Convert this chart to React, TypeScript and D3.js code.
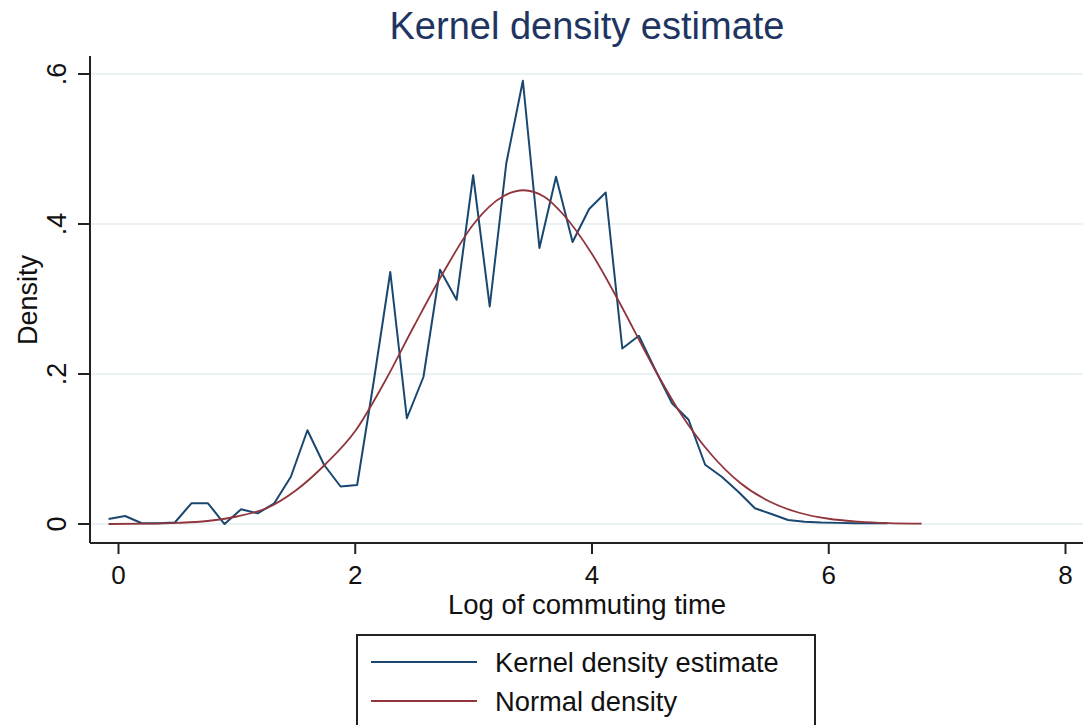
import React, { useEffect, useRef } from "react";
import * as d3 from "d3";

// kernel density estimate
const kdeX = [
  -0.084, 0.056, 0.196, 0.336, 0.476, 0.616, 0.756, 0.896, 1.036, 1.176,
  1.316, 1.456, 1.596, 1.736, 1.876, 2.016, 2.156, 2.296, 2.436, 2.576,
  2.716, 2.856, 2.996, 3.136, 3.276, 3.416, 3.556, 3.696, 3.836, 3.976,
  4.116, 4.256, 4.396, 4.536, 4.676, 4.816, 4.956, 5.096, 5.236, 5.376,
  5.516, 5.656, 5.796, 5.936, 6.076, 6.216, 6.356, 6.496,
];
const kdeY = [
  0.0067, 0.0107, 0.001, 0.001, 0.002, 0.0276, 0.0276, 0.0, 0.0196, 0.0142,
  0.0276, 0.063, 0.125, 0.079, 0.05, 0.052, 0.19, 0.336, 0.141, 0.196,
  0.339, 0.299, 0.465, 0.29, 0.481, 0.591, 0.368, 0.463, 0.376, 0.42,
  0.442, 0.234, 0.251, 0.205, 0.161, 0.139, 0.079, 0.063, 0.043, 0.021,
  0.0133, 0.0053, 0.003, 0.002, 0.0015, 0.001, 0.001, 0.001,
];

// normal density curve
const normX = [
  -0.084, 0.25, 0.5, 0.75, 1.0, 1.25, 1.5, 1.75, 2.0, 2.25, 2.5, 2.75, 3.0,
  3.25, 3.42, 3.6, 3.75, 4.0, 4.25, 4.5, 4.75, 5.0, 5.25, 5.5, 5.75, 6.0,
  6.25, 6.5, 6.785,
];
const normY = [
  0.0, 0.0004, 0.0015, 0.004, 0.01, 0.021, 0.045, 0.08, 0.124, 0.19, 0.265,
  0.337, 0.4, 0.437, 0.445, 0.436, 0.414, 0.36, 0.29, 0.215, 0.147, 0.094,
  0.055, 0.03, 0.015, 0.007, 0.0033, 0.0013, 0.0004,
];

const xTicks = [0, 2, 4, 6, 8];
const yTicks = [0, 0.2, 0.4, 0.6];
const yTickLabels = ["0", ".2", ".4", ".6"];
const seriesNames = ["Kernel density estimate", "Normal density"];

const FONT = "'Liberation Sans', Arial, sans-serif";
const BLUE = "#1a476f";
const RED = "#90353b";

const App = () => {
  const ref = useRef<SVGSVGElement>(null);

  useEffect(() => {
    document.body.style.margin = "0";
    const width = 1085;
    const height = 725;
    const left = 90;
    const right = 1083;
    const axisY = 543;

    const svg = d3.select(ref.current);
    svg.selectAll("*").remove();

    svg.append("rect").attr("width", width).attr("height", height).attr("fill", "#fff");

    const x = d3.scaleLinear().domain([0, 8]).range([118.5, 1065.5]);
    const y = d3.scaleLinear().domain([0, 0.6]).range([524, 74]);

    // gridlines
    svg.append("g")
      .selectAll("line")
      .data(yTicks)
      .enter().append("line")
      .attr("x1", left)
      .attr("x2", right)
      .attr("y1", d => y(d))
      .attr("y2", d => y(d))
      .attr("stroke", "#eaf2f3")
      .attr("stroke-width", 2);

    // curves
    const line = d3.line<[number, number]>()
      .x(d => x(d[0]))
      .y(d => y(d[1]));

    svg.append("path")
      .datum(kdeX.map((v, i) => [v, kdeY[i]] as [number, number]))
      .attr("d", line)
      .attr("fill", "none")
      .attr("stroke", BLUE)
      .attr("stroke-width", 2)
      .attr("stroke-linejoin", "round");

    svg.append("path")
      .datum(normX.map((v, i) => [v, normY[i]] as [number, number]))
      .attr("d", line.curve(d3.curveMonotoneX))
      .attr("fill", "none")
      .attr("stroke", RED)
      .attr("stroke-width", 1.8);

    // y axis
    const yAxis = svg.append("g");
    yAxis.append("line")
      .attr("x1", left).attr("x2", left)
      .attr("y1", 56).attr("y2", axisY)
      .attr("stroke", "#222").attr("stroke-width", 2);
    yAxis.selectAll("line.tick")
      .data(yTicks)
      .enter().append("line")
      .attr("class", "tick")
      .attr("x1", 78).attr("x2", left)
      .attr("y1", d => y(d)).attr("y2", d => y(d))
      .attr("stroke", "#222").attr("stroke-width", 2);
    yAxis.selectAll("text")
      .data(yTicks)
      .enter().append("text")
      .attr("transform", d => `translate(66,${y(d)}) rotate(-90)`)
      .attr("text-anchor", "middle")
      .attr("font-family", FONT)
      .attr("font-size", 27)
      .attr("fill", "#111")
      .text((d, i) => yTickLabels[i]);

    // x axis
    const xAxis = svg.append("g");
    xAxis.append("line")
      .attr("x1", left).attr("x2", right)
      .attr("y1", axisY).attr("y2", axisY)
      .attr("stroke", "#222").attr("stroke-width", 2);
    xAxis.selectAll("line.tick")
      .data(xTicks)
      .enter().append("line")
      .attr("class", "tick")
      .attr("x1", d => x(d)).attr("x2", d => x(d))
      .attr("y1", axisY).attr("y2", axisY + 11)
      .attr("stroke", "#222").attr("stroke-width", 2);
    xAxis.selectAll("text")
      .data(xTicks)
      .enter().append("text")
      .attr("x", d => x(d))
      .attr("y", 584)
      .attr("text-anchor", "middle")
      .attr("font-family", FONT)
      .attr("font-size", 26)
      .attr("fill", "#111")
      .text(d => d);

    // titles
    svg.append("text")
      .attr("x", 587).attr("y", 39)
      .attr("text-anchor", "middle")
      .attr("font-family", FONT)
      .attr("font-size", 38)
      .attr("fill", "#1e3461")
      .text("Kernel density estimate");

    svg.append("text")
      .attr("x", 587).attr("y", 614)
      .attr("text-anchor", "middle")
      .attr("font-family", FONT)
      .attr("font-size", 27.5)
      .attr("fill", "#111")
      .text("Log of commuting time");

    svg.append("text")
      .attr("transform", "translate(37,300) rotate(-90)")
      .attr("text-anchor", "middle")
      .attr("font-family", FONT)
      .attr("font-size", 27)
      .attr("fill", "#111")
      .text("Density");

    // legend
    const legend = svg.append("g");
    legend.append("rect")
      .attr("x", 357).attr("y", 635)
      .attr("width", 458).attr("height", 120)
      .attr("fill", "#fff")
      .attr("stroke", "#222")
      .attr("stroke-width", 2);
    const items = legend.selectAll("g.item")
      .data(seriesNames)
      .enter().append("g")
      .attr("class", "item")
      .attr("transform", (d, i) => `translate(0,${662 + i * 39})`);
    items.append("line")
      .attr("x1", 371).attr("x2", 477)
      .attr("y1", 0).attr("y2", 0)
      .attr("stroke", (d, i) => (i === 0 ? BLUE : RED))
      .attr("stroke-width", 2);
    items.append("text")
      .attr("x", 495).attr("y", 10)
      .attr("font-family", FONT)
      .attr("font-size", 27.3)
      .attr("fill", "#111")
      .text(d => d);
  }, []);

  return <svg ref={ref} width={1085} height={725} style={{ display: "block" }}></svg>;
};

export default App;
